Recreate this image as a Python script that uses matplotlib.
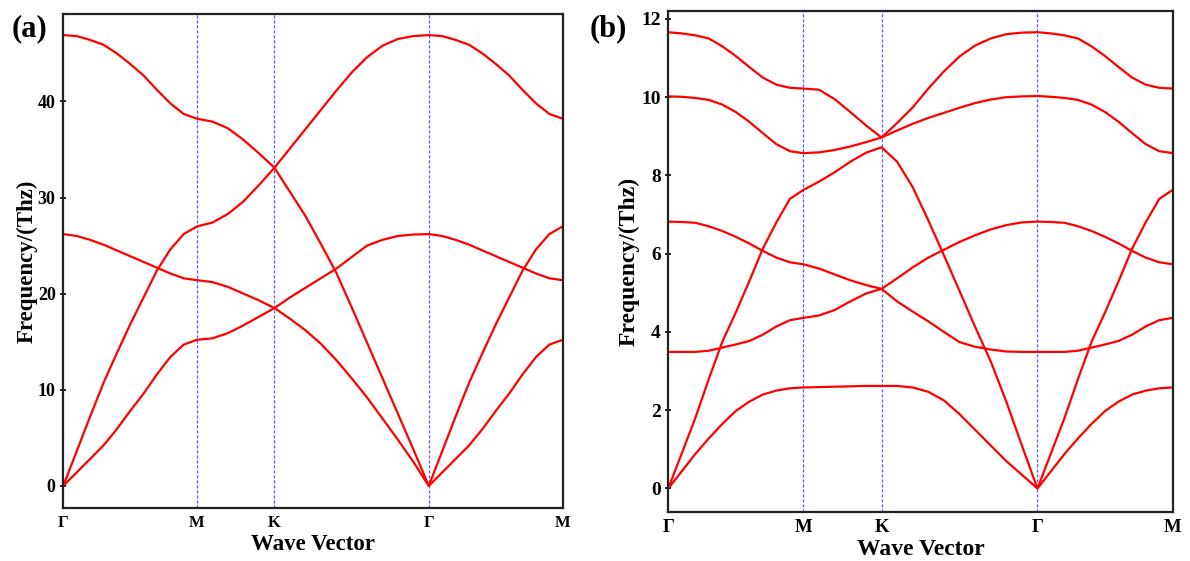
import numpy as np
import matplotlib
matplotlib.use('Agg')
import matplotlib.pyplot as plt

plt.rcParams['font.family'] = ['Liberation Serif', 'DejaVu Serif']
plt.rcParams['font.weight'] = 'bold'

# high-symmetry path (hexagonal BZ), distances in units of 2*pi/a
path_labels = ['Γ', 'M', 'K', 'Γ', 'M']
path_nodes = [0.0, 0.577, 0.911, 1.577, 2.155]
seg_points = [11, 6, 11, 11]   # samples read per segment

# panel (a): frequencies, THz
a_band1 = [0.0, 1.4, 2.8, 4.2, 5.9, 7.8, 9.6, 11.6, 13.4, 14.7, 15.2,
           15.2, 15.35, 15.9, 16.7, 17.6, 18.5,
           18.5, 19.6, 20.6, 21.6, 22.6, 23.8, 25.0, 25.6, 26.0, 26.15, 26.2,
           26.2, 26.0, 25.6, 25.1, 24.5, 23.9, 23.3, 22.7, 22.1, 21.6, 21.4]
a_band2 = [0.0, 3.6, 7.2, 10.7, 13.8, 16.8, 19.6, 22.4, 24.6, 26.2, 27.0,
           27.0, 27.4, 28.3, 29.6, 31.3, 33.1,
           33.1, 35.1, 37.1, 39.1, 41.1, 43.0, 44.6, 45.8, 46.5, 46.8, 46.9,
           46.9, 46.8, 46.4, 45.9, 45.0, 43.9, 42.7, 41.2, 39.8, 38.7, 38.2]
a_band3 = [26.2, 26.0, 25.6, 25.1, 24.5, 23.9, 23.3, 22.7, 22.1, 21.6, 21.4,
           21.4, 21.2, 20.7, 20.0, 19.3, 18.5,
           18.5, 17.4, 16.2, 14.8, 13.1, 11.2, 9.2, 7.0, 4.8, 2.5, 0.0,
           0.0, 1.4, 2.8, 4.2, 5.9, 7.8, 9.6, 11.6, 13.4, 14.7, 15.2]
a_band4 = [46.9, 46.8, 46.4, 45.9, 45.0, 43.9, 42.7, 41.2, 39.8, 38.7, 38.2,
           38.2, 37.9, 37.2, 36.0, 34.6, 33.1,
           33.1, 30.6, 28.1, 25.2, 22.2, 18.6, 14.9, 11.2, 7.5, 3.8, 0.0,
           0.0, 3.6, 7.2, 10.7, 13.8, 16.8, 19.6, 22.4, 24.6, 26.2, 27.0]

# panel (b)
b_band1 = [0.0, 0.44, 0.88, 1.28, 1.65, 1.98, 2.22, 2.40, 2.50, 2.56, 2.58,
           2.58, 2.59, 2.60, 2.61, 2.62, 2.62,
           2.62, 2.62, 2.58, 2.47, 2.25, 1.90, 1.50, 1.10, 0.70, 0.35, 0.0,
           0.0, 0.44, 0.88, 1.28, 1.65, 1.98, 2.22, 2.40, 2.50, 2.56, 2.58]
b_band2 = [0.0, 0.9, 1.8, 2.8, 3.75, 4.5, 5.3, 6.13, 6.8, 7.4, 7.63,
           7.63, 7.84, 8.08, 8.35, 8.58, 8.72,
           8.72, 8.35, 7.70, 6.85, 5.96, 5.05, 4.13, 3.25, 2.22, 1.10, 0.0,
           0.0, 0.9, 1.8, 2.8, 3.75, 4.5, 5.3, 6.13, 6.8, 7.4, 7.63]
b_band3 = [3.49, 3.49, 3.49, 3.52, 3.60, 3.68, 3.77, 3.93, 4.14, 4.30, 4.36,
           4.36, 4.42, 4.56, 4.78, 4.98, 5.10,
           5.10, 5.37, 5.65, 5.90, 6.10, 6.30, 6.47, 6.62, 6.73, 6.80, 6.82,
           6.82, 6.81, 6.79, 6.70, 6.58, 6.43, 6.26, 6.07, 5.90, 5.78, 5.73]
b_band4 = [6.82, 6.81, 6.79, 6.70, 6.58, 6.43, 6.26, 6.07, 5.90, 5.78, 5.73,
           5.73, 5.62, 5.47, 5.32, 5.20, 5.10,
           5.10, 4.78, 4.52, 4.27, 4.00, 3.74, 3.62, 3.55, 3.50, 3.49, 3.49,
           3.49, 3.49, 3.49, 3.52, 3.60, 3.68, 3.77, 3.93, 4.14, 4.30, 4.36]
b_band5 = [10.02, 10.01, 9.98, 9.93, 9.81, 9.62, 9.37, 9.08, 8.80, 8.62, 8.57,
           8.57, 8.59, 8.65, 8.74, 8.85, 8.97,
           8.97, 9.34, 9.74, 10.22, 10.66, 11.04, 11.32, 11.50, 11.61, 11.65, 11.66,
           11.66, 11.63, 11.58, 11.50, 11.30, 11.05, 10.77, 10.50, 10.32, 10.24, 10.22]
b_band6 = [11.66, 11.63, 11.58, 11.50, 11.30, 11.05, 10.77, 10.50, 10.32, 10.24, 10.22,
           10.22, 10.19, 9.95, 9.62, 9.28, 8.97,
           8.97, 9.15, 9.32, 9.47, 9.60, 9.73, 9.85, 9.94, 10.00, 10.02, 10.03,
           10.03, 10.01, 9.98, 9.93, 9.81, 9.62, 9.37, 9.08, 8.80, 8.62, 8.57]


def build_path(nodes, counts):

    """
    Positions of the sampled k-points along the path.
    """

    parts = [np.linspace(nodes[i], nodes[i + 1], n) for i, n in enumerate(counts)]
    return np.concatenate(parts)


def draw_panel(ax, k, bands, ylim, yticks, fs_y, fs_x, fs_lab):

    """
    One band-structure panel.
    """

    for band in bands:
        ax.plot(k, band, color='red', linewidth=1.6, solid_capstyle='round',
                solid_joinstyle='round')

    for x in path_nodes[1:-1]:
        ax.axvline(x, color='#3030ff', linewidth=0.9, linestyle=(0, (2.5, 1.5)),
                   alpha=0.8, zorder=0)

    ax.set_xlim(path_nodes[0], path_nodes[-1])
    ax.set_ylim(*ylim)
    ax.set_yticks(yticks)
    ax.set_xticks(path_nodes)
    ax.set_xticklabels(path_labels)

    ax.tick_params(axis='y', direction='inout', length=5, width=1.2,
                   labelsize=fs_y, pad=3)
    ax.tick_params(axis='x', length=0, labelsize=fs_x, pad=5)
    for lab in ax.get_xticklabels() + ax.get_yticklabels():
        lab.set_fontweight('bold')

    for sp in ax.spines.values():
        sp.set_linewidth(1.6)
        sp.set_color('#222222')

    ax.set_xlabel('Wave Vector', fontsize=fs_lab, fontweight='bold', labelpad=2)
    ax.set_ylabel('Frequency/(Thz)', fontsize=fs_lab, fontweight='bold')


if __name__ == '__main__':

    k = build_path(path_nodes, seg_points)

    fig = plt.figure(figsize=(11.9, 5.61), dpi=100)
    ax_a = fig.add_axes([0.0532, 0.0945, 0.4197, 0.8806])
    ax_b = fig.add_axes([0.5616, 0.0868, 0.4239, 0.8941])

    draw_panel(ax_a, k, [a_band1, a_band2, a_band3, a_band4],
               (-2.3, 49.1), [0, 10, 20, 30, 40], 13, 12, 16.5)
    ax_a.yaxis.set_label_coords(-0.052, 0.5)

    draw_panel(ax_b, k, [b_band1, b_band2, b_band3, b_band4, b_band5, b_band6],
               (-0.61, 12.21), [0, 2, 4, 6, 8, 10, 12], 14, 13.5, 17)
    ax_b.yaxis.set_label_coords(-0.057, 0.5)

    fig.text(12 / 1190, 1 - 29 / 561, '(a)', fontsize=22, fontweight='bold',
             ha='left', va='center')
    fig.text(590 / 1190, 1 - 29 / 561, '(b)', fontsize=22, fontweight='bold',
             ha='left', va='center')

    fig.savefig('out.png', dpi=100)
